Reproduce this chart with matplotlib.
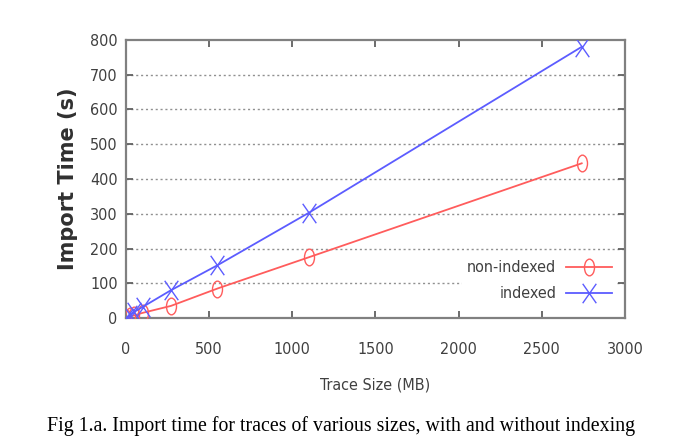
import matplotlib
matplotlib.use("Agg")
import matplotlib.pyplot as plt
from matplotlib import font_manager as fm
from matplotlib.path import Path
from matplotlib.transforms import Affine2D

# trace sizes (MB) and import times (s)
trace_size = [0, 25, 50, 100, 270, 550, 1100, 2740]
non_indexed = [0, 5, 8, 15, 35, 85, 175, 445]
indexed = [0, 10, 18, 32, 80, 152, 303, 780]

xticks = [0, 500, 1000, 1500, 2000, 2500, 3000]
yticks = [0, 100, 200, 300, 400, 500, 600, 700, 800]

# the original picture is squeezed sideways, so look for a narrow face
narrow = "Liberation Sans"
stretch = "normal"
for f in fm.fontManager.ttflist:
    if "Narrow" in f.name or "Condensed" in f.name:
        narrow = f.name
        break
    if str(f.stretch) in ("condensed", "semi-condensed") and f.name == "DejaVu Sans":
        narrow = "DejaVu Sans"
        stretch = "condensed"
        break
tick_col = "#404040"
tick_size = 11.5

# tall markers (the original was squashed horizontally)
ell = Path.unit_circle().transformed(Affine2D().scale(0.6, 1.0))
cross = Path([(-0.7, -1), (0.7, 1), (-0.7, 1), (0.7, -1)],
             [Path.MOVETO, Path.LINETO, Path.MOVETO, Path.LINETO])

fig = plt.figure(figsize=(6.83, 4.43), dpi=100)
ax = fig.add_axes([0.1845, 0.282, 0.7305, 0.628])

# dotted horizontal grid
for y in yticks[1:-1]:
    ax.axhline(y, color="#909090", lw=1.0, ls=(0, (1.5, 2)), zorder=0)

ax.plot(trace_size, non_indexed, color="#ff5c5c", lw=1.3, marker=ell, ms=12,
        mfc="none", mec="#ff5c5c", mew=1.0, label="non-indexed", zorder=3)
ax.plot(trace_size, indexed, color="#5c5cff", lw=1.3, marker=cross, ms=14,
        mew=1.0, label="indexed", zorder=3)

ax.set_xlim(0, 3000)
ax.set_ylim(0, 800)
ax.set_xticks(xticks)
ax.set_yticks(yticks)
ax.tick_params(direction="in", length=5, width=1.3, color="#606060",
               top=True, right=True, labelcolor=tick_col, labelsize=tick_size)
ax.tick_params(axis="x", pad=17)
ax.tick_params(axis="y", pad=6)
for lab in ax.get_xticklabels() + ax.get_yticklabels():
    lab.set_family(narrow)
    lab.set_stretch(stretch)

for sp in ax.spines.values():
    sp.set_color("#808080")
    sp.set_linewidth(1.6)

ax.set_xlabel("Trace Size (MB)", family=narrow, stretch=stretch, fontsize=11.5,
              color=tick_col, labelpad=15)
ax.set_ylabel("Import Time (s)", fontsize=15, fontweight="bold", color="#303030", labelpad=9)

leg = ax.legend(loc="lower right", bbox_to_anchor=(1.0, 0.014), markerfirst=False,
                frameon=True, framealpha=1, edgecolor="none", fancybox=False,
                prop={"family": narrow, "size": 11.5, "stretch": stretch},
                handlelength=2.9, handletextpad=0.6, labelspacing=0.7, borderpad=0.3)
for t in leg.get_texts():
    t.set_color(tick_col)
leg.set_zorder(2)

fig.text(0.5, 0.027, "Fig 1.a. Import time for traces of various sizes, with and without indexing",
         ha="center", family="Liberation Serif", fontsize=14.3, color="black")

fig.savefig("out.png", dpi=100)
